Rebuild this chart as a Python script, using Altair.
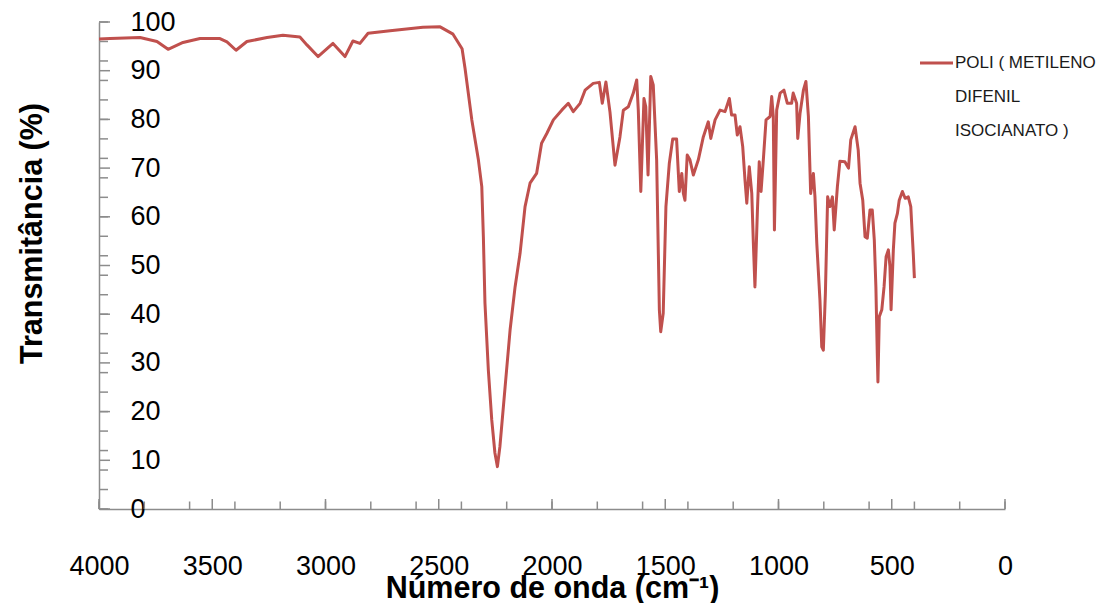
import altair as alt
import pandas as pd

# ---------------- data ----------------
WAVENUMBER = [4000, 3951, 3819, 3744, 3695, 3629, 3554, 3466, 3435, 3395, 3347, 3258,
              3188, 3113, 3082, 3033, 2967, 2914, 2879, 2848, 2812, 2715, 2570, 2494,
              2437, 2397, 2384, 2354, 2325, 2310, 2303, 2296, 2281, 2266, 2252, 2241,
              2230, 2207, 2185, 2163, 2141, 2119, 2097, 2068, 2046, 2023, 1994, 1957,
              1928, 1906, 1876, 1854, 1818, 1791, 1778, 1762, 1744, 1722, 1700, 1685,
              1663, 1641, 1626, 1619, 1608, 1594, 1586, 1576, 1564, 1553, 1538, 1526,
              1520, 1509, 1497, 1482, 1467, 1450, 1438, 1427, 1420, 1413, 1403, 1391,
              1376, 1354, 1332, 1310, 1299, 1280, 1258, 1236, 1217, 1207, 1192, 1182,
              1170, 1158, 1148, 1140, 1129, 1118, 1111, 1104, 1093, 1085, 1077, 1067,
              1055, 1037, 1030, 1023, 1018, 1008, 993, 976, 961, 942, 935, 920, 915,
              905, 890, 879, 868, 858, 846, 839, 831, 817, 809, 802, 793, 783, 773,
              762, 754, 740, 729, 707, 691, 681, 662, 648, 640, 628, 618, 608, 596,
              586, 577, 570, 564, 561, 555, 544, 534, 525, 515, 508, 503, 493, 486,
              475, 467, 453, 441, 427, 416, 409, 405, 400]
TRANSMITTANCE = [96.5, 96.6, 96.8, 96.0, 94.4, 95.8, 96.6, 96.6, 95.9, 94.2, 96.0, 96.8,
                 97.3, 96.9, 95.3, 92.9, 95.6, 92.9, 96.1, 95.6, 97.7, 98.2, 98.9, 99.0,
                 97.5, 94.5, 90.5, 79.9, 71.7, 66.2, 55.9, 42.3, 28.5, 18.3, 11.5, 8.7,
                 12.8, 25.1, 36.8, 45.6, 52.5, 62.1, 66.9, 68.9, 75.1, 77.1, 79.9, 81.9,
                 83.3, 81.6, 83.3, 86.0, 87.4, 87.6, 83.3, 87.7, 81.5, 70.6, 76.4, 81.9,
                 82.6, 85.4, 88.1, 81.9, 65.2, 84.3, 82.6, 68.6, 88.8, 87.1, 71.7, 40.9,
                 36.4, 40.2, 62.1, 71.0, 76.0, 76.0, 65.2, 68.9, 64.8, 63.4, 72.7, 71.7,
                 68.6, 71.7, 76.4, 79.5, 76.1, 79.9, 81.9, 81.6, 84.3, 80.9, 80.9, 76.8,
                 78.5, 74.4, 67.6, 62.8, 70.3, 64.8, 54.6, 45.6, 61.4, 71.3, 65.2, 71.7,
                 79.9, 80.6, 84.7, 80.6, 57.3, 81.9, 85.4, 86.0, 83.3, 83.3, 85.4, 83.3, 76.1,
                 81.2, 86.0, 87.8, 80.6, 64.8, 68.9, 64.1, 54.6, 42.9, 33.3, 32.6, 44.3, 64.1, 62.1,
                 64.1, 57.3, 66.2, 71.4, 71.3, 70.0, 75.8, 78.5, 73.7, 66.9, 63.4, 55.9, 55.6, 61.4,
                 61.4, 55.2, 45.6, 32.0, 26.1, 39.5, 40.9, 45.6, 51.8, 53.2, 49.8, 40.9, 53.2, 58.7,
                 60.7, 63.4, 65.2, 63.8, 64.1, 62.1, 55.9, 52.5, 47.4]
SERIES = "POLI ( METILENO DIFENIL ISOCIANATO )"
LEGEND_LINES = ["POLI ( METILENO", "DIFENIL", "ISOCIANATO )"]
X_TITLE = "Número de onda (cm⁻¹)"
Y_TITLE = "Transmitância (%)"
X_LABELS = [4000, 3500, 3000, 2500, 2000, 1500, 1000, 500, 0]
X_MINOR = list(range(0, 4001, 200))
Y_LABELS = list(range(0, 101, 10))
Y_MINOR = list(range(0, 101, 4))

# ---------------- style ----------------
W, H = 906, 487
X_MIN, X_MAX = 0, 4000
Y_MIN, Y_MAX = 0, 100
RED = "#C0504D"
GRAY = "#8c8c8c"
FONT = "Liberation Sans"
X_MAJOR_PX, X_MINOR_PX = 10, 7.5
Y_MAJOR_PX, Y_MINOR_PX = 11, 9
# legend placement (pixels, relative to the plot area)
LEG_X0, LEG_X1, LEG_TX = 821, 854, 856
LEG_Y0, LEG_DY = 41, 34

xscale = alt.Scale(domain=[X_MIN, X_MAX], reverse=True, nice=False, zero=False)
yscale = alt.Scale(domain=[Y_MIN, Y_MAX], nice=False)

x_axis = alt.Axis(
    values=X_LABELS, ticks=False, grid=False, domain=True, domainColor=GRAY, domainWidth=1.5,
    labelFont=FONT, labelFontSize=27, labelColor="black", labelPadding=44,
    labelFlush=False, labelOverlap=False, labelBound=False, format="d",
    title=X_TITLE, titleFont=FONT, titleFontSize=30.5, titleFontWeight="bold",
    titleColor="black", titleX=W / 2, titleY=88, titleBaseline="alphabetic",
    titleAlign="center")
y_axis = alt.Axis(
    values=Y_LABELS, ticks=False, grid=False, domain=True, domainColor=GRAY, domainWidth=1.5,
    labelFont=FONT, labelFontSize=27, labelColor="black", labelPadding=-31,
    labelAlign="left", labelBaseline="middle", labelFlush=False, labelOverlap=False,
    labelBound=False, format="d",
    title=Y_TITLE, titleFont=FONT, titleFontSize=30.5, titleFontWeight="bold",
    titleColor="black", titleX=-58, titleY=211, titleAngle=270,
    titleBaseline="alphabetic", titleAlign="center")

df = pd.DataFrame({"wn": WAVENUMBER, "t": TRANSMITTANCE, "serie": SERIES})

x_ticks = pd.DataFrame({
    "wn": X_MINOR + X_LABELS,
    "t": [Y_MIN] * (len(X_MINOR) + len(X_LABELS)),
    "t2": [X_MINOR_PX * (Y_MAX - Y_MIN) / H] * len(X_MINOR)
          + [X_MAJOR_PX * (Y_MAX - Y_MIN) / H] * len(X_LABELS),
})
y_ticks = pd.DataFrame({
    "t": Y_MINOR + Y_LABELS,
    "wn": [X_MAX] * (len(Y_MINOR) + len(Y_LABELS)),
    "wn2": [X_MAX - Y_MINOR_PX * (X_MAX - X_MIN) / W] * len(Y_MINOR)
           + [X_MAX - Y_MAJOR_PX * (X_MAX - X_MIN) / W] * len(Y_LABELS),
})
legend_df = pd.DataFrame({"txt": LEGEND_LINES, "row": list(range(len(LEGEND_LINES)))})

line = alt.Chart(df).mark_line(strokeWidth=3, strokeJoin="round", color=RED).encode(
    x=alt.X("wn:Q", scale=xscale, axis=x_axis),
    y=alt.Y("t:Q", scale=yscale, axis=y_axis),
)

xt = alt.Chart(x_ticks).mark_rule(color=GRAY, strokeWidth=1.5).encode(
    x=alt.X("wn:Q", scale=xscale, axis=x_axis),
    y=alt.Y("t:Q", scale=yscale, axis=y_axis),
    y2="t2:Q",
)
yt = alt.Chart(y_ticks).mark_rule(color=GRAY, strokeWidth=1.5).encode(
    x=alt.X("wn:Q", scale=xscale, axis=x_axis),
    x2="wn2:Q",
    y=alt.Y("t:Q", scale=yscale, axis=y_axis),
)

leg_sym = alt.Chart(legend_df).transform_filter("datum.row == 0").mark_rule(
    color=RED, strokeWidth=3).encode(
    x=alt.value(LEG_X0), x2=alt.value(LEG_X1), y=alt.value(LEG_Y0))
leg_txt = alt.Chart(legend_df).transform_calculate(
    py=f"{LEG_Y0} + {LEG_DY} * datum.row").mark_text(
    align="left", baseline="middle", font=FONT, fontSize=17, color="#1a1a1a").encode(
    x=alt.value(LEG_TX), y=alt.Y("py:Q", scale=None, axis=None), text="txt:N")

chart = alt.layer(xt, yt, line, leg_sym, leg_txt).properties(
    width=W, height=H,
    autosize=alt.AutoSizeParams(type="none"),
    padding={"left": 91, "top": 14, "right": 105, "bottom": 94},
    background="white",
).configure_view(stroke=None)

chart.save("out.html", embed_options={"renderer": "svg", "actions": False})
